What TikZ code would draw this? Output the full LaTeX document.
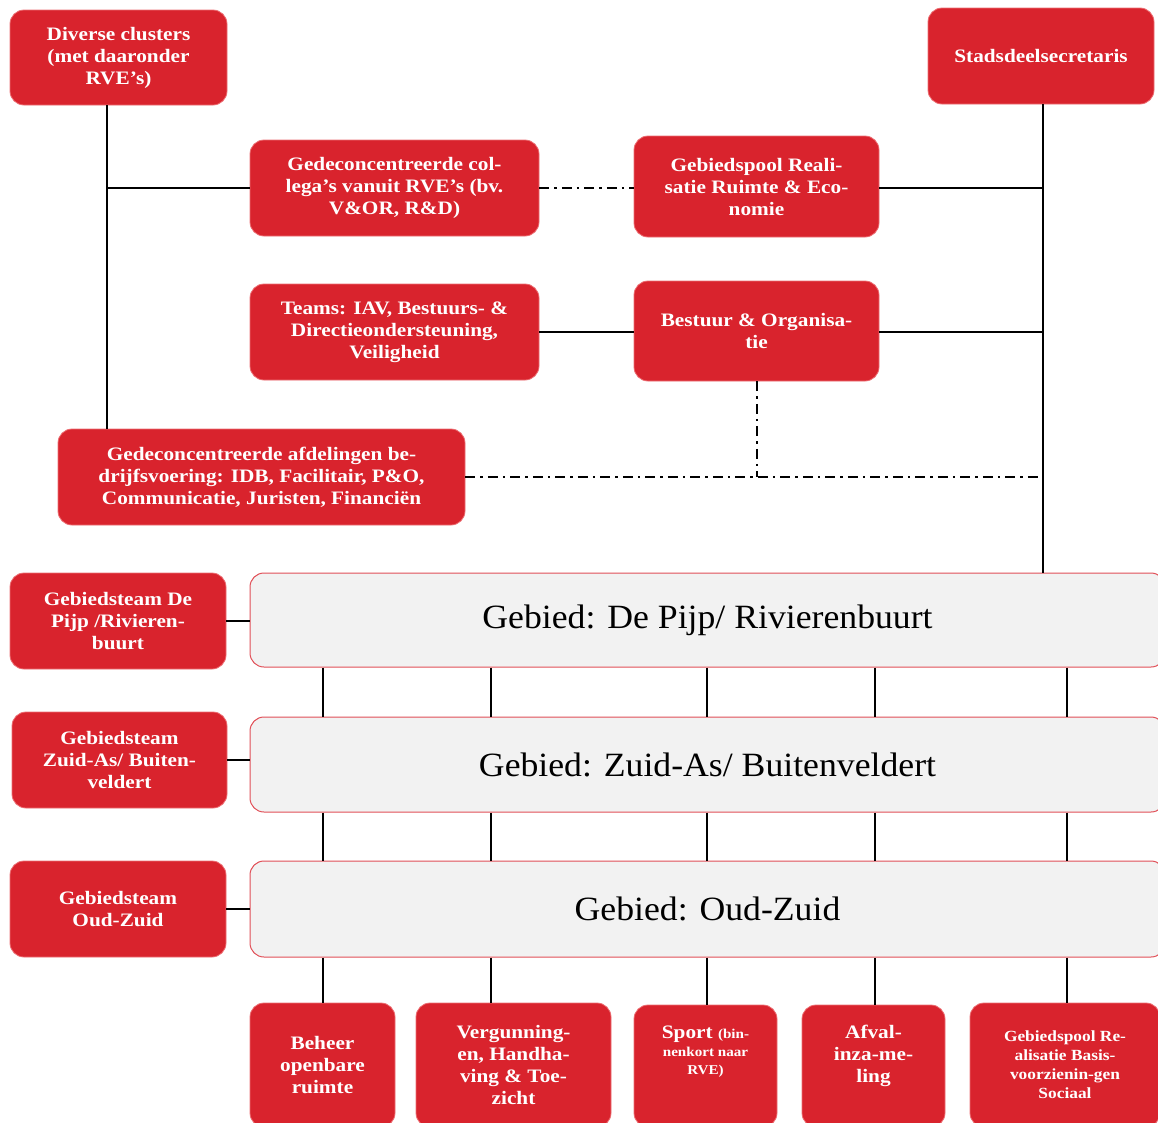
\documentclass[tikz,border=0pt]{standalone}
\usepackage{fontspec}
\setmainfont{Liberation Serif}
\newfontfamily\unitfont{Liberation Serif}[FakeStretch=1.12]
\newfontfamily\areafont{Liberation Serif}[FakeStretch=1.05]
\usepackage{tikz}

\definecolor{boxred}{RGB}{217,35,45}
\definecolor{boxedge}{RGB}{236,110,115}
\definecolor{areagray}{RGB}{242,242,242}
\newcommand{\sportnote}{\fontsize{13.5}{16}\selectfont}

\tikzset{
  unit/.style={rectangle, rounded corners=14pt, fill=boxred, draw=boxedge, line width=0.8pt,
    text=white, font=\unitfont\fontsize{19}{22}\selectfont\bfseries, align=center, inner sep=0pt},
  area/.style={rectangle, rounded corners=14pt, fill=areagray, draw=boxred!80, line width=1pt,
    font=\areafont\fontsize{34}{40}\selectfont, minimum width=915pt},
  link/.style={line width=2pt},
  loose/.style={line width=2pt, dash pattern=on 10pt off 5pt on 2.5pt off 5pt}
}

\begin{document}
\begin{tikzpicture}[x=1pt,y=-1pt]
\useasboundingbox (0,0) rectangle (1158,1122);
\clip (0,0) rectangle (1158,1122);

\node[unit, minimum width=217pt, minimum height=95pt] (clusters) at (118.5,57.5) {Diverse clusters\\(met daaronder\\RVE’s)};
\node[unit, minimum width=226pt, minimum height=96pt] (secretaris) at (1041,56) {Stadsdeelsecretaris};
\node[unit, minimum width=289pt, minimum height=96pt] (collegas) at (394.5,188) {Gedeconcentreerde col-\\lega’s vanuit RVE’s (bv.\\V\&OR, R\&D)};
\node[unit, minimum width=245pt, minimum height=101pt] (poolRE) at (756.5,186.5) {Gebiedspool Reali-\\satie Ruimte \& Eco-\\nomie};
\node[unit, minimum width=289pt, minimum height=96pt] (teams) at (394.5,332) {Teams: IAV, Bestuurs- \&\\Directieondersteuning,\\Veiligheid};
\node[unit, minimum width=245pt, minimum height=100pt] (bestuur) at (756.5,331) {Bestuur \& Organisa-\\tie};
\node[unit, minimum width=407pt, minimum height=96pt] (afdelingen) at (261.5,477) {Gedeconcentreerde afdelingen be-\\drijfsvoering: IDB, Facilitair, P\&O,\\Communicatie, Juristen, Financiën};

\node[unit, minimum width=216pt, minimum height=96pt] (teamPijp) at (118,621) {Gebiedsteam De\\Pijp /Rivieren-\\buurt};
\node[unit, minimum width=215pt, minimum height=96pt] (teamZuidAs) at (119.5,760) {Gebiedsteam\\Zuid-As/ Buiten-\\veldert};
\node[unit, minimum width=216pt, minimum height=96pt] (teamOudZuid) at (118,909) {Gebiedsteam\\Oud-Zuid};

\node[area, minimum height=94pt] (gebiedPijp) at (707.5,620) {Gebied: De Pijp/ Rivierenbuurt};
\node[area, minimum height=95pt] (gebiedZuidAs) at (707.5,764.5) {Gebied: Zuid-As/ Buitenveldert};
\node[area, minimum height=96pt] (gebiedOudZuid) at (707.5,909) {Gebied: Oud-Zuid};

\node[unit, minimum width=145pt, minimum height=124pt] (beheer) at (322.5,1065) {Beheer\\openbare\\ruimte};
\node[unit, minimum width=195pt, minimum height=124pt] (vergunning) at (513.5,1065) {Vergunning-\\en, Handha-\\ving \& Toe-\\zicht};
\node[unit, minimum width=143pt, minimum height=122pt, text depth=32pt] (sport) at (705.5,1066) {Sport {\sportnote(bin-}\\[-4pt]{\sportnote nenkort naar}\\[-4pt]{\sportnote RVE)}};
\node[unit, minimum width=143pt, minimum height=122pt, text depth=25pt] (afval) at (873.5,1066) {Afval-\\inza-me-\\ling};
\node[unit, minimum width=190pt, minimum height=124pt, font=\unitfont\fontsize{15.5}{19}\selectfont\bfseries] (poolBS) at (1065,1065) {Gebiedspool Re-\\alisatie Basis-\\voorzienin-gen\\Sociaal};

\coordinate (spine) at (107,0);
\coordinate (rspine) at (1043,0);

\draw[link] (clusters.south -| spine) -- (afdelingen.north -| spine);
\draw[link] (collegas.west -| spine) -- (collegas.west);
\draw[loose] (collegas.east) -- (collegas.east -| poolRE.west);
\draw[link] (poolRE.east |- collegas.east) -- (collegas.east -| rspine);
\draw[link] (secretaris.south -| rspine) -- (gebiedPijp.north -| rspine);
\draw[link] (teams.east) -- (teams.east -| bestuur.west);
\draw[link] (bestuur.east |- teams.east) -- (teams.east -| rspine);
\draw[loose] (bestuur.south) -- (bestuur.south |- afdelingen.east);
\draw[loose] (afdelingen.east) -- (afdelingen.east -| rspine);

\foreach \Team/\Area in {teamPijp/gebiedPijp, teamZuidAs/gebiedZuidAs, teamOudZuid/gebiedOudZuid}
    \draw[link] (\Team.east) -- (\Team.east -| \Area.west);
\foreach \X in {323, 491, 707, 875, 1067}
    \draw[link] (gebiedPijp.south -| \X,0) -- (gebiedZuidAs.north -| \X,0);
\foreach \X in {323, 491, 707, 875, 1067}
    \draw[link] (gebiedZuidAs.south -| \X,0) -- (gebiedOudZuid.north -| \X,0);
\foreach \X/\Box in {323/beheer, 491/vergunning, 707/sport, 875/afval, 1067/poolBS}
    \draw[link] (gebiedOudZuid.south -| \X,0) -- (\Box.north -| \X,0);
\end{tikzpicture}
\end{document}
